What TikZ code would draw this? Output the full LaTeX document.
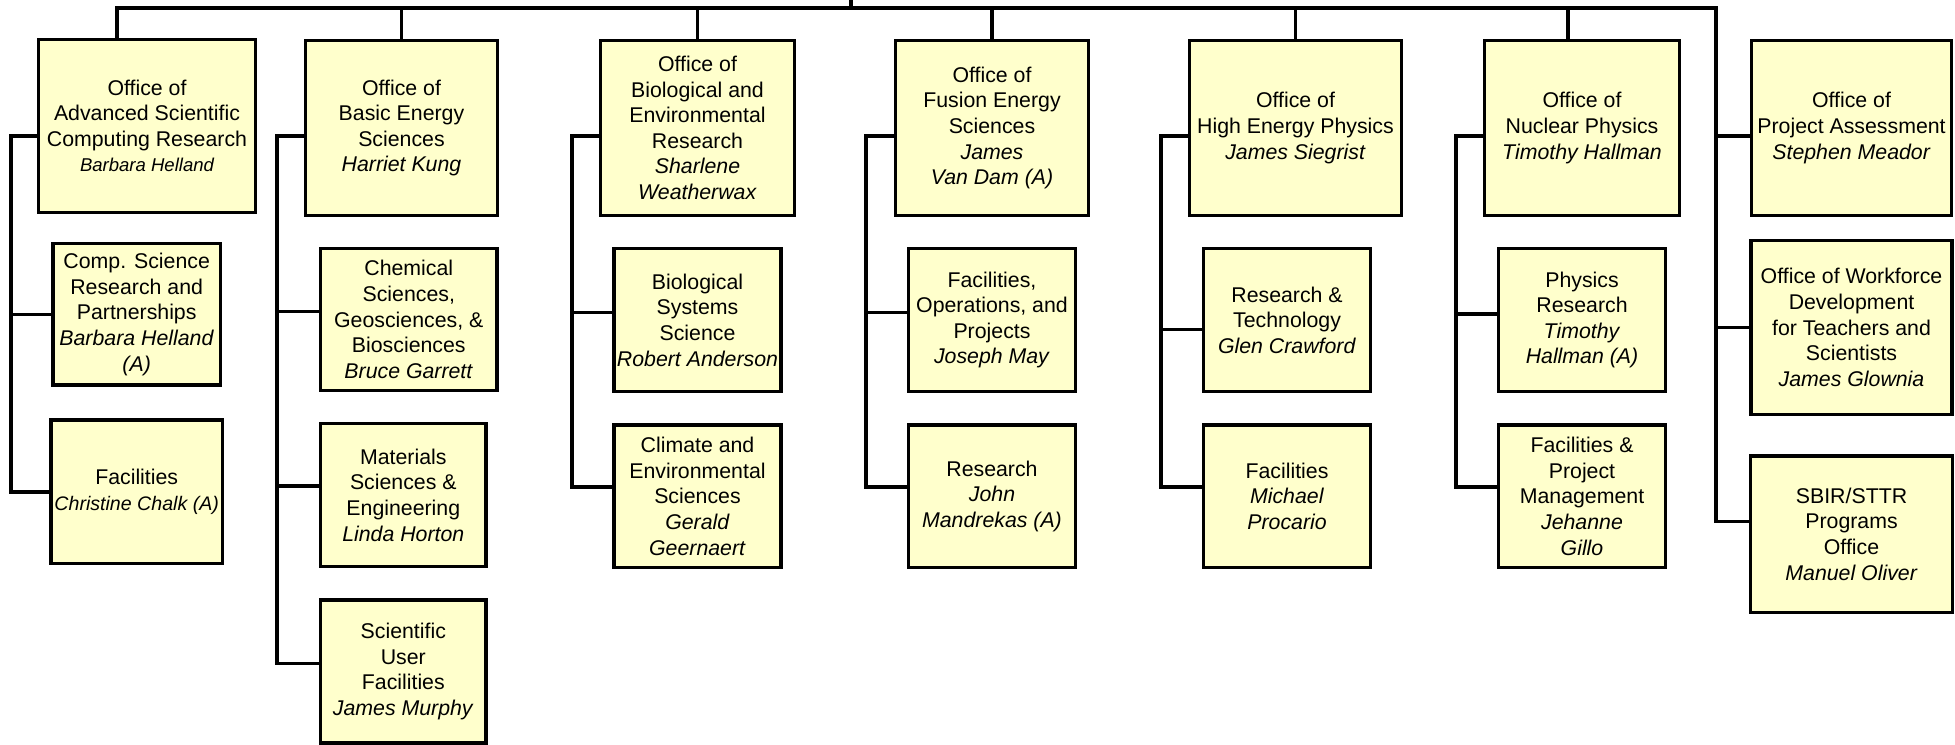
\documentclass[tikz,border=0pt]{standalone}
\usepackage{fontspec}
\setmainfont{Liberation Sans}
\usetikzlibrary{positioning}
\definecolor{BoxFill}{HTML}{FFFFCC}
\definecolor{LineInk}{HTML}{000000}
\tikzset{
  link/.style={draw=LineInk, line width=1.6pt},
  office box/.style={draw=LineInk, fill=BoxFill, line width=1.6pt,
    align=center, inner sep=0pt, font=\fontsize{10}{12}\selectfont,
    minimum width=3.194cm, minimum height=2.881cm},
  division box/.style={draw=LineInk, fill=BoxFill, line width=1.6pt,
    align=center, inner sep=0pt, font=\fontsize{10}{12}\selectfont,
    minimum width=2.749cm, minimum height=2.354cm},
}
\newcommand{\rowgap}{0.495cm}

\begin{document}
\begin{tikzpicture}[x=0.0165cm, y=-0.0165cm]
  \useasboundingbox (0,0) rectangle (1955,744);

  % Programme offices along the top row, staff offices in the last column.
  \node[office box, minimum width=3.574cm, minimum height=2.848cm] (ascr) at (147,126)
    {Office of\\Advanced Scientific\\Computing Research\\{\fontsize{8.7}{11}\selectfont\itshape Barbara Helland}};
  \node[office box, minimum width=3.162cm] (bes) at (401.5,128)
    {Office of\\Basic Energy\\Sciences\\\textit{Harriet Kung}};
  \node[office box] (ber) at (697.5,128)
    {Office of\\Biological and\\Environmental\\Research\\\textit{Sharlene}\\\textit{Weatherwax}};
  \node[office box, minimum width=3.178cm] (fes) at (992,128)
    {Office of\\Fusion Energy\\Sciences\\\textit{James}\\\textit{Van Dam (A)}};
  \node[office box, minimum width=3.492cm] (hep) at (1295.5,128)
    {Office of\\High Energy Physics\\\textit{James Siegrist}};
  \node[office box, minimum width=3.211cm] (np) at (1582,128)
    {Office of\\Nuclear Physics\\\textit{Timothy Hallman}};
  \node[office box, minimum width=3.294cm] (opa) at (1851.5,128)
    {Office of\\Project Assessment\\\textit{Stephen Meador}};

  \node[division box, minimum width=2.764cm, minimum height=2.334cm, below=0.46cm of ascr, xshift=-1.7mm] (csrp)
    {Comp. Science\\Research and\\Partnerships\\\textit{Barbara Helland}\\\textit{(A)}};
  \node[division box, minimum width=2.832cm, minimum height=2.37cm, below=0.52cm of csrp] (ascrfac)
    {Facilities\\{\fontsize{9.2}{11}\selectfont\itshape Christine Chalk (A)}};

  \node[division box, minimum width=2.914cm, minimum height=2.334cm, below=\rowgap of bes, xshift=1.2mm] (chem)
    {Chemical\\Sciences,\\Geosciences, \&\\Biosciences\\\textit{Bruce Garrett}};
  \node[division box, minimum width=2.734cm, below=\rowgap of chem, xshift=-0.9mm] (mse)
    {Materials\\Sciences \&\\Engineering\\\textit{Linda Horton}};
  \node[division box, minimum width=2.734cm, minimum height=2.36cm, below=\rowgap of mse] (suf)
    {Scientific\\User\\Facilities\\\textit{James Murphy}};

  \node[division box, below=\rowgap of ber] (bss)
    {Biological\\Systems\\Science\\\textit{Robert Anderson}};
  \node[division box, below=\rowgap of bss] (ces)
    {Climate and\\Environmental\\Sciences\\\textit{Gerald}\\\textit{Geernaert}};

  \node[division box, below=\rowgap of fes] (fop)
    {Facilities,\\Operations, and\\Projects\\\textit{Joseph May}};
  \node[division box, below=\rowgap of fop] (fesres)
    {Research\\\textit{John}\\\textit{Mandrekas (A)}};

  \node[division box, below=\rowgap of hep, xshift=-1.4mm] (hept)
    {Research \&\\Technology\\\textit{Glen Crawford}};
  \node[division box, below=\rowgap of hept] (hepfac)
    {Facilities\\\textit{Michael}\\\textit{Procario}};

  \node[division box, below=\rowgap of np] (npres)
    {Physics\\Research\\\textit{Timothy}\\\textit{Hallman (A)}};
  \node[division box, below=\rowgap of npres] (npfpm)
    {Facilities \&\\Project\\Management\\\textit{Jehanne}\\\textit{Gillo}};

  \node[office box, minimum width=3.31cm, minimum height=2.864cm, below=3.6mm of opa] (wdts)
    {Office of Workforce\\Development\\for Teachers and\\Scientists\\\textit{James Glownia}};
  \node[office box, minimum width=3.327cm, minimum height=2.584cm, below=6.3mm of wdts] (sbir)
    {SBIR/STTR\\Programs\\Office\\\textit{Manuel Oliver}};

  % The bus along the top feeds every office.
  \coordinate (root) at (851,0);
  \coordinate (busW) at (117,8);
  \coordinate (busE) at (1716,8);
  \draw[link] (root) -- (root |- busW);
  \draw[link] (busW |- ascr.north) -- (busW) -- (busE) |- ([yshift=2.1mm]sbir.west);
  \draw[link] (bes.north) -- (bes.north |- busW);
  \draw[link] (ber.north) -- (ber.north |- busW);
  \draw[link] (fes.north) -- (fes.north |- busW);
  \draw[link] (hep.north) -- (hep.north |- busW);
  \draw[link] ([xshift=-2.3mm]np.north) -- ([xshift=-2.3mm]np.north |- busW);
  \draw[link] ([yshift=-1.3mm]opa.west) -- ([yshift=-1.3mm]opa.west -| busE);
  \draw[link] (wdts.west) -- (wdts.west -| busE);

  % Brackets on the left of each column.
  \coordinate (ascrbar) at (11,0);
  \coordinate (besbar) at (277,0);
  \coordinate (berbar) at (572,0);
  \coordinate (fesbar) at (866,0);
  \coordinate (hepbar) at (1161,0);
  \coordinate (npbar) at (1456,0);

  \draw[link] ([yshift=-1.65mm]ascr.west) -| (ascrfac.west -| ascrbar) -- (ascrfac.west);
  \draw[link] (csrp.west) -- (csrp.west -| ascrbar);

  \draw[link] ([yshift=-1.3mm]bes.west) -| ([yshift=1.3mm]suf.west -| besbar) -- ([yshift=1.3mm]suf.west);
  \draw[link] ([yshift=1.3mm]chem.west) -- ([yshift=1.3mm]chem.west -| besbar);
  \draw[link] ([yshift=1.5mm]mse.west) -- ([yshift=1.5mm]mse.west -| besbar);

  \draw[link] ([yshift=-1.3mm]ber.west) -| ([yshift=1.5mm]ces.west -| berbar) -- ([yshift=1.5mm]ces.west);
  \draw[link] ([yshift=1.3mm]bss.west) -- ([yshift=1.3mm]bss.west -| berbar);

  \draw[link] ([yshift=-1.3mm]fes.west) -| ([yshift=1.5mm]fesres.west -| fesbar) -- ([yshift=1.5mm]fesres.west);
  \draw[link] ([yshift=1.3mm]fop.west) -- ([yshift=1.3mm]fop.west -| fesbar);

  \draw[link] ([yshift=-1.3mm]hep.west) -| ([yshift=1.5mm]hepfac.west -| hepbar) -- ([yshift=1.5mm]hepfac.west);
  \draw[link] ([yshift=-1.5mm]hept.west) -- ([yshift=-1.5mm]hept.west -| hepbar);

  \draw[link] ([yshift=-1.3mm]np.west) -| ([yshift=1.5mm]npfpm.west -| npbar) -- ([yshift=1.5mm]npfpm.west);
  \draw[link] ([yshift=1mm]npres.west) -- ([yshift=1mm]npres.west -| npbar);
\end{tikzpicture}
\end{document}
